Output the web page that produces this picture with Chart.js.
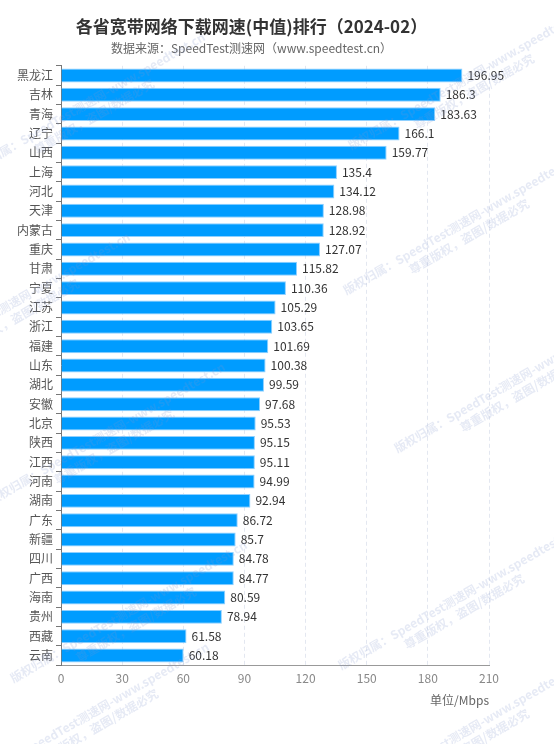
<!DOCTYPE html>
<html>
<head>
<meta charset="utf-8">
<script src="https://cdn.jsdelivr.net/npm/chart.js@4/dist/chart.umd.min.js"></script>
<style>
  html, body { margin: 0; padding: 0; background: #fff; }
  #wrap { width: 554px; height: 744px; }
</style>
</head>
<body>
<div id="wrap"><canvas id="myChart"></canvas></div>
<script>
  var provinces = ['黑龙江', '吉林', '青海', '辽宁', '山西', '上海', '河北', '天津', '内蒙古', '重庆',
    '甘肃', '宁夏', '江苏', '浙江', '福建', '山东', '湖北', '安徽', '北京', '陕西',
    '江西', '河南', '湖南', '广东', '新疆', '四川', '广西', '海南', '贵州', '西藏', '云南'];
  var speeds = [196.95, 186.3, 183.63, 166.1, 159.77, 135.4, 134.12, 128.98, 128.92, 127.07,
    115.82, 110.36, 105.29, 103.65, 101.69, 100.38, 99.59, 97.68, 95.53, 95.15,
    95.11, 94.99, 92.94, 86.72, 85.7, 84.78, 84.77, 80.59, 78.94, 61.58, 60.18];
  var xTicks = [0, 30, 60, 90, 120, 150, 180, 210];

  var FONT = '"Noto Sans CJK SC", "Noto Sans", sans-serif';

  // value text at the end of each bar
  var valueLabels = {
    id: 'valueLabels',
    afterDatasetsDraw: function (chart) {
      var ctx = chart.ctx;
      var meta = chart.getDatasetMeta(0);
      ctx.save();
      ctx.font = '12px ' + FONT;
      ctx.fillStyle = '#333';
      ctx.textAlign = 'left';
      ctx.textBaseline = 'middle';
      meta.data.forEach(function (bar, i) {
        ctx.fillText(String(speeds[i]), bar.x + 5, bar.y);
      });
      ctx.restore();
    }
  };

  // faint diagonal copyright marks
  var markSpots = [[-20, 165], [-95, 365], [0, 495], [22, 673], [-16, 775],
    [360, 140], [355, 285], [406, 443], [350, 660], [355, 795]];
  var watermark = {
    id: 'watermark',
    afterDraw: function (chart) {
      var ctx = chart.ctx;
      ctx.save();
      ctx.font = 'bold 12px ' + FONT;
      ctx.fillStyle = 'rgba(130,150,205,0.2)';
      ctx.textAlign = 'center';
      ctx.textBaseline = 'middle';
      markSpots.forEach(function (p) {
        ctx.save();
        ctx.translate(p[0], p[1]);
        ctx.rotate(-30 * Math.PI / 180);
        ctx.fillText('版权归属：SpeedTest测速网-www.speedtest.cn', 123, 0);
        ctx.fillText('尊重版权，盗图/数据必究', 123, 15);
        ctx.restore();
      });
      ctx.restore();
    }
  };

  var ctx = document.getElementById('myChart').getContext('2d');
  var myChart = new Chart(ctx, {
    type: 'bar',
    data: {
      labels: provinces,
      datasets: [{
        data: speeds,
        backgroundColor: '#009cff',
        borderColor: '#8fd0ff',
        borderWidth: 1,
        categoryPercentage: 1,
        barPercentage: 0.72
      }]
    },
    options: {
      indexAxis: 'y',
      responsive: true,
      maintainAspectRatio: false,
      animation: false,
      layout: { padding: { left: 14, right: 65, top: 0, bottom: 32 } },
      plugins: {
        legend: { display: false },
        tooltip: { enabled: false },
        title: {
          display: true,
          text: '各省宽带网络下载网速(中值)排行（2024-02）',
          color: '#333',
          font: { family: FONT, size: 17, weight: 'bold' },
          padding: { top: 16, bottom: 5 }
        },
        subtitle: {
          display: true,
          text: '数据来源：SpeedTest测速网（www.speedtest.cn）',
          color: '#666',
          font: { family: FONT, size: 12 },
          padding: { bottom: 10 }
        }
      },
      scales: {
        x: {
          min: 0,
          max: 210,
          afterBuildTicks: function (axis) {
            axis.ticks = xTicks.map(function (v) { return { value: v }; });
          },
          grid: { color: '#e3e7f0', drawTicks: false },
          border: { display: true, color: '#999', dash: [4, 3] },
          ticks: { color: '#888', font: { family: FONT, size: 12 }, padding: 6 },
          title: {
            display: true,
            text: '单位/Mbps',
            align: 'end',
            color: '#666',
            font: { family: FONT, size: 12 },
            padding: { top: 2 }
          }
        },
        y: {
          grid: { drawOnChartArea: false, drawTicks: true, tickLength: 5, color: '#777', offset: true },
          border: { display: true, color: '#777' },
          ticks: { color: '#555', font: { family: FONT, size: 12 }, padding: 3, autoSkip: false }
        }
      }
    },
    plugins: [valueLabels, watermark]
  });
</script>
</body>
</html>
